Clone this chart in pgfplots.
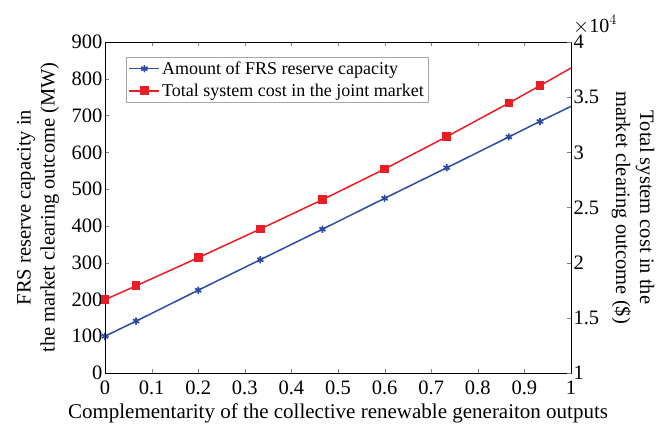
\documentclass[border=0pt]{standalone}
\usepackage{pgfplots}
\pgfplotsset{compat=1.18}
\usepackage{fontspec}
\setmainfont{Liberation Serif}
\newfontfamily\tickfont{Liberation Serif}
\definecolor{bl}{RGB}{44,76,162}
\definecolor{rd}{RGB}{234,28,36}
\begin{document}
\begin{tikzpicture}[font=\rmfamily\fontsize{20.5}{23}\selectfont]
\begin{axis}[
  name=main,
  scale only axis, width=466pt, height=331pt,
  xmin=0, xmax=1, ymin=0, ymax=900,
  tick align=inside, ytick pos=left, xtick pos=both,
  xtick={0,0.1,0.2,0.3,0.4,0.5,0.6,0.7,0.8,0.9,1}, ytick={0,100,200,300,400,500,600,700,800,900},
  xticklabels={{\tickfont 0},{\tickfont 0.1},{\tickfont 0.2},{\tickfont 0.3},{\tickfont 0.4},{\tickfont 0.5},{\tickfont 0.6},{\tickfont 0.7},{\tickfont 0.8},{\tickfont 0.9},{\tickfont 1}},
  yticklabels={{\tickfont 0},{\tickfont 100},{\tickfont 200},{\tickfont 300},{\tickfont 400},{\tickfont 500},{\tickfont 600},{\tickfont 700},{\tickfont 800},{\tickfont 900}},
  xticklabel pos=lower,
  xticklabel shift=4pt,
  yticklabel shift=-1pt,
  tick label style={font=\tickfont\fontsize{20.5}{23}\selectfont},
  xlabel={Complementarity of the collective renewable generaiton outputs},
  xlabel style={at={([yshift=-40pt]rel axis cs:0.5,0)}, anchor=center, font=\rmfamily\fontsize{21}{24}\selectfont},
  ylabel={FRS reserve capacity in\\the market clearing outcome (MW)},
  ylabel style={at={([xshift=-67pt]rel axis cs:0,0.5)}, anchor=center, align=center, font=\rmfamily\fontsize{20.5}{24}\selectfont},
  legend style={at={(0.045,0.955)}, anchor=north west, draw=gray!70, font=\rmfamily\fontsize{18}{21}\selectfont, inner sep=2.5pt, row sep=4pt},
  legend cell align=left,
  legend image code/.code={\draw[#1] (0cm,0cm) -- (1.05cm,0cm); \draw[#1, only marks] plot coordinates {(0.525cm,0cm)};},
  clip=false,
]
\addplot[bl, line width=1.5pt, mark=asterisk, mark size=3.6pt, mark options={line width=1.7pt}, mark indices={1,2,3,4,5,6,7,8,9}] coordinates {
(0,100) (0.0667,141) (0.2,225) (0.3333,308) (0.4667,391) (0.6,475) (0.7333,558) (0.8667,642) (0.9333,684) (1,725)};
\addlegendentry{Amount of FRS reserve capacity}
\addlegendimage{rd, line width=1.5pt, mark=square*, mark size=3.6pt}
\addlegendentry{Total system cost in the joint market}
\end{axis}
\begin{axis}[
  scale only axis, width=466pt, height=331pt,
  xmin=0, xmax=1, ymin=1, ymax=4,
  xtick=\empty, hide x axis, ytick pos=right, yticklabel pos=right,
  tick align=inside,
  ytick={1,1.5,2,2.5,3,3.5,4},
  yticklabels={{\tickfont 1},{\tickfont 1.5},{\tickfont 2},{\tickfont 2.5},{\tickfont 3},{\tickfont 3.5},{\tickfont 4}},
  tick label style={font=\tickfont\fontsize{20.5}{23}\selectfont},
  yticklabel shift=-1pt,
  ylabel={Total system cost in the\\market clearing outcome (\$)},
  ylabel style={at={([xshift=62pt]rel axis cs:1,0.5)}, anchor=center, align=center, rotate=180, font=\rmfamily\fontsize{20.5}{24}\selectfont},
  clip=false,
]
\addplot[rd, line width=1.5pt, mark=square*, mark size=3.6pt, mark indices={1,2,3,4,5,6,7,8,9}] coordinates {
(0,1.665) (0.0667,1.79) (0.2,2.045) (0.3333,2.305) (0.4667,2.571) (0.6,2.849) (0.7333,3.142) (0.8667,3.447) (0.9333,3.604) (1,3.764)};
\node[anchor=south west, inner sep=0pt, font=\tickfont\fontsize{20}{22}\selectfont] at ([xshift=2pt, yshift=8pt]rel axis cs:1,1) {$\times$10$^{4}$};
\end{axis}
\pgfresetboundingbox
\useasboundingbox ([xshift=-105pt,yshift=-54pt]main.south west) rectangle ([xshift=94pt,yshift=42pt]main.north east);
\end{tikzpicture}
\end{document}
